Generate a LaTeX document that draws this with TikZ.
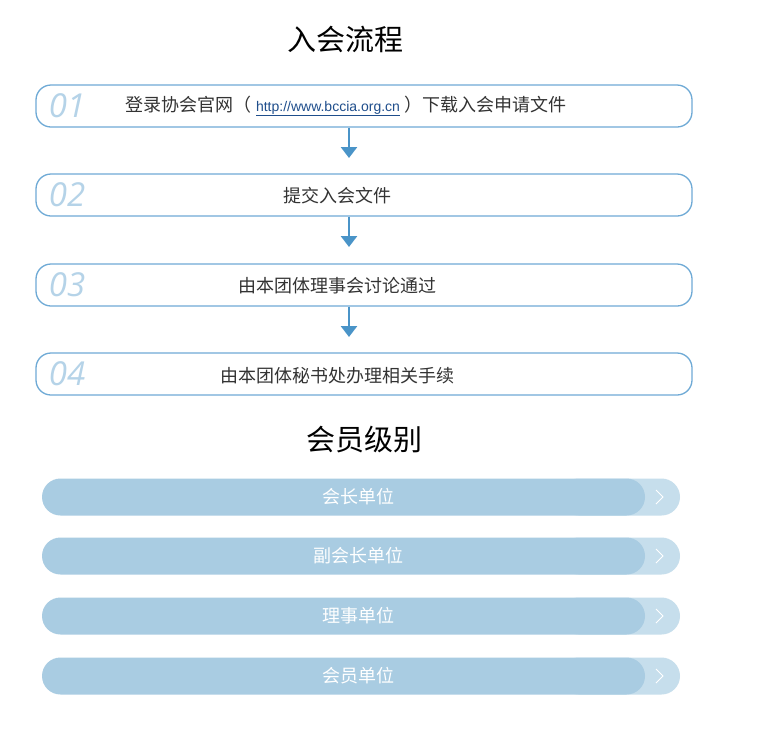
\documentclass[tikz,border=0pt]{standalone}
\usepackage{fontspec}
\setmainfont{Liberation Sans}
\newfontfamily\cjk{Noto Sans CJK SC}
\newfontfamily\numfont{Open Sans}
\usetikzlibrary{arrows.meta}
\definecolor{frameblue}{HTML}{6FAAD6}
\definecolor{arrowblue}{HTML}{4A94C8}
\definecolor{numblue}{HTML}{B5D3E8}
\definecolor{txtgrey}{HTML}{333333}
\definecolor{bardark}{HTML}{A9CCE2}
\definecolor{barlight}{HTML}{C6DEEC}
\definecolor{urlblue}{HTML}{1F4E8C}
\begin{document}
\begin{tikzpicture}[x=1pt,y=-1pt,
  stepbox/.style={draw=frameblue,line width=1.3pt,rounded corners=15pt,minimum width=656pt,minimum height=42pt,inner sep=0pt},
  numtxt/.style={text=numblue,font=\numfont\itshape\fontsize{33}{33}\selectfont,anchor=center},
  steptxt/.style={text=txtgrey,font=\cjk\fontsize{18}{20}\selectfont},
  flowarrow/.style={draw=arrowblue,line width=2.6pt,-{Triangle[width=16pt,length=11pt]}},
  titletxt/.style={text=black,font=\cjk\fontsize{29}{30}\selectfont},
  leveltxt/.style={text=white,font=\cjk\fontsize{18}{20}\selectfont},
]
\useasboundingbox (0,0) rectangle (761,729);
\fill[white] (0,0) rectangle (761,729);

\node[titletxt] (t1) at (345,39) {入会流程};

\node[stepbox] (s1) at (364,106) {};
\node[stepbox] (s2) at (364,195) {};
\node[stepbox] (s3) at (364,285) {};
\node[stepbox] (s4) at (364,374) {};

\node[numtxt] (n1) at (67,106) {01};
\node[numtxt] (n2) at (67,195) {02};
\node[numtxt] (n3) at (67,285) {03};
\node[numtxt] (n4) at (67,374) {04};

\node[steptxt] (l1) at (346,106) {登录协会官网（ {\color{urlblue}\fontspec{Liberation Sans}\fontsize{14}{16}\selectfont\underline{http://www.bccia.org.cn}} ）下载入会申请文件};
\node[steptxt] (l2) at (337,196) {提交入会文件};
\node[steptxt] (l3) at (337,286) {由本团体理事会讨论通过};
\node[steptxt] (l4) at (337,376) {由本团体秘书处办理相关手续};

\coordinate (e1) at (349,158);
\coordinate (e2) at (349,247);
\coordinate (e3) at (349,337);
\draw[flowarrow] (s1.south -| e1) -- (e1);
\draw[flowarrow] (s2.south -| e2) -- (e2);
\draw[flowarrow] (s3.south -| e3) -- (e3);

\node[titletxt] (t2) at (364,440) {会员级别};

\foreach \y/\lab/\nm in {497/会长单位/b1, 556/副会长单位/b2, 616/理事单位/b3, 676/会员单位/b4}{
  \fill[barlight,rounded corners=18.5pt] (560,\y-18.5) rectangle (680,\y+18.5);
  \fill[bardark,rounded corners=18.5pt] (42,\y-18.5) rectangle (645,\y+18.5);
  \draw[white,line width=0.8pt] (656,\y-7) -- (663,\y) -- (656,\y+7);
  \node[leveltxt] (\nm) at (358,\y) {\lab};
}
\end{tikzpicture}
\end{document}
